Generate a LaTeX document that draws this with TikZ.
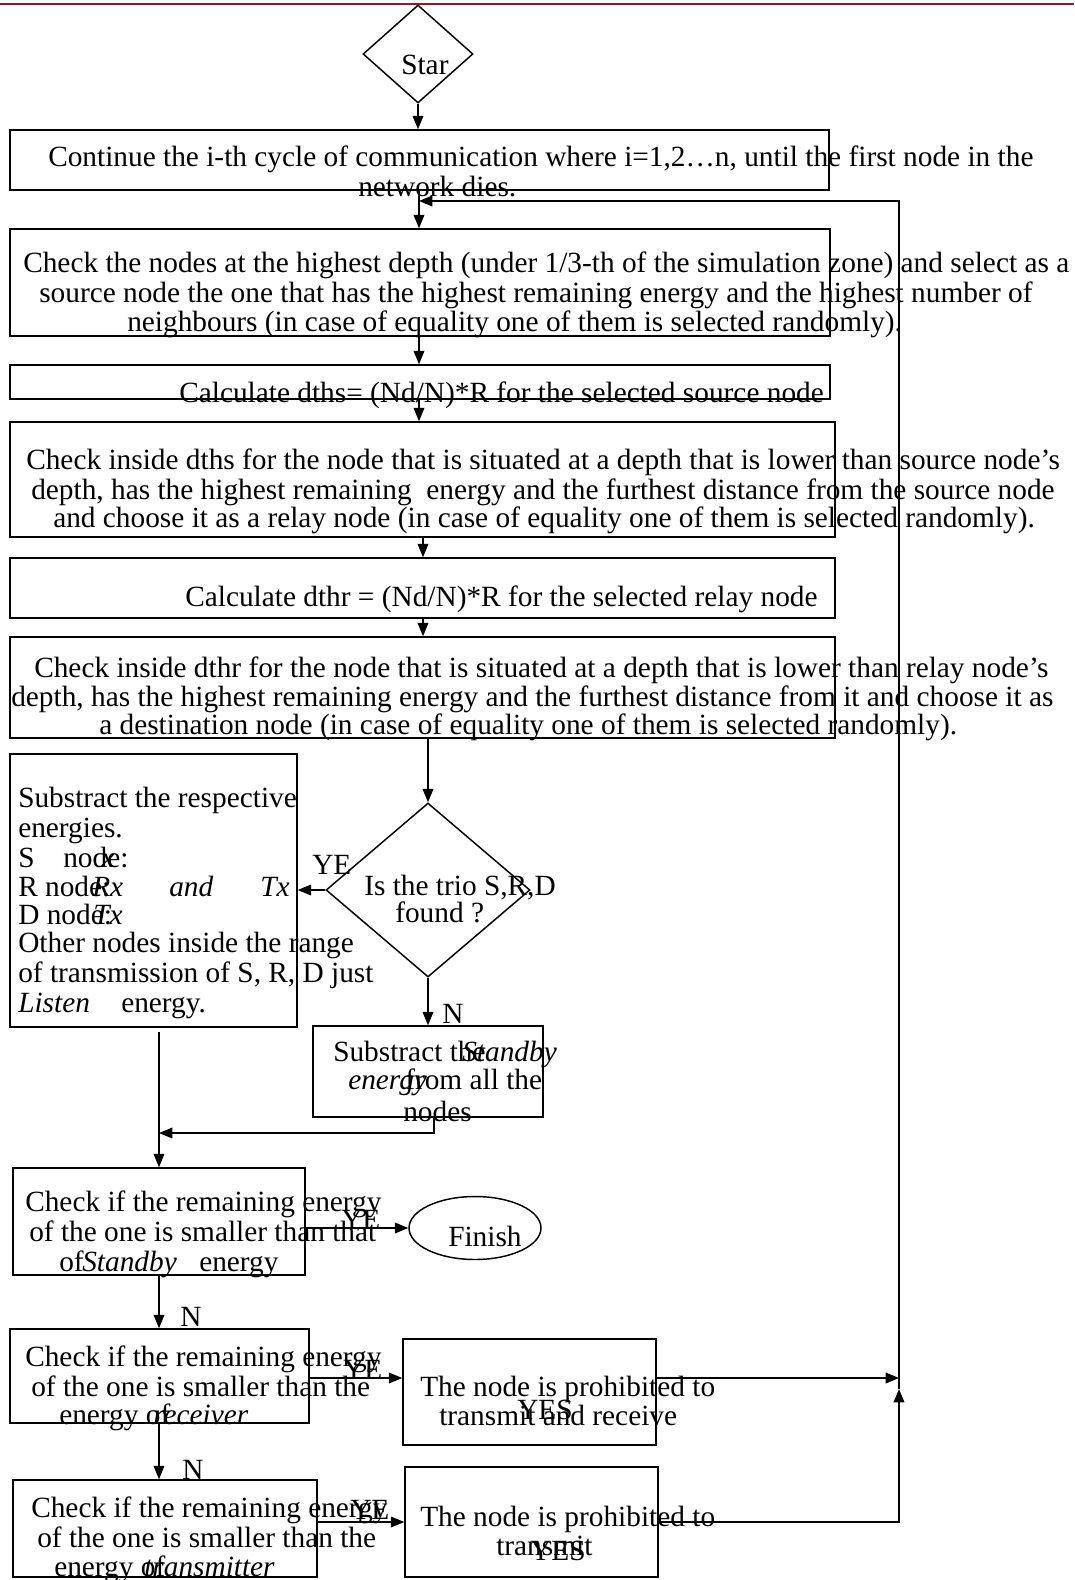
\documentclass[tikz,border=0pt]{standalone}
\usepackage{fontspec}
\setmainfont{Liberation Serif}
\usetikzlibrary{arrows.meta,shapes.geometric}
\definecolor{topred}{RGB}{139,26,46}
\tikzset{
  box/.style={draw, line width=1.1pt, rectangle, inner sep=0pt},
  dia/.style={draw, line width=1.1pt, diamond, inner sep=0pt},
  ell/.style={draw, line width=1.1pt, ellipse, inner sep=0pt},
  txt/.style={inner sep=0pt, anchor=west, yshift=-3pt, font=\fontsize{22}{22}\selectfont},
  arr/.style={line width=1pt, -{Triangle[length=10pt,width=8pt]}},
}
\newcommand{\pbox}[5]{\node[box, minimum width={(#4-#2)*0.75pt}, minimum height={(#5-#3)*0.75pt}] (#1) at ({(#2+#4)/2},{(#3+#5)/2}) {};}
\newcommand{\tline}[4]{\node[txt] (#1) at (#2,#3) {\strut #4};}
\begin{document}
\begin{tikzpicture}[x=0.75pt,y=-0.75pt]
\useasboundingbox (0,0) rectangle (1074,1580);
\fill[white] (0,0) rectangle (1074,1580);
\draw[topred, line width=2.2pt] (0,4) -- (1074,4);

% shapes
\node[dia, minimum width={110*0.75pt}, minimum height={98*0.75pt}] (start) at (418,54) {};
\pbox{b1}{10}{130}{829}{190}
\pbox{b2}{10}{229}{830}{336}
\pbox{b3}{10}{365}{830}{399}
\pbox{b4}{10}{422}{835}{537}
\pbox{b5}{10}{558}{835}{618}
\pbox{b6}{10}{637}{835}{738}
\node[dia, minimum width={204*0.75pt}, minimum height={174*0.75pt}] (trio) at (428,890) {};
\pbox{b7}{10}{754}{297}{1027}
\pbox{b8}{313}{1026}{543}{1117}
\pbox{b9}{13}{1168}{305}{1275}
\node[ell, minimum width={132*0.75pt}, minimum height={63*0.75pt}] (fin) at (475,1228) {};
\pbox{b10}{10}{1329}{309}{1423}
\pbox{b11}{403}{1339}{656}{1445}
\pbox{b12}{13}{1480}{317}{1577}
\pbox{b13}{405}{1467}{658}{1577}

% helper coordinates
\coordinate (cA) at (419,0);
\coordinate (cB) at (423,0);
\coordinate (cD) at (434,0);
\coordinate (cE) at (434,1133);
\coordinate (cF) at (159,1133);
\coordinate (cG) at (159,1032);
\coordinate (r1) at (0,1378);
\coordinate (r2) at (0,1522);
\coordinate (cR) at (899,0);
\coordinate (up) at (899,1389);
\coordinate (fbTop) at (899,201);
\coordinate (fbEnd) at (419,201);

% connectors
\draw[arr] (start.south) -- (start.south |- b1.north);
\draw[arr] (b1.south -| cA) -- (b2.north -| cA);
\draw[arr] (b2.south -| cA) -- (b3.north -| cA);
\draw[arr] (b3.south -| cA) -- (b4.north -| cA);
\draw[arr] (b4.south -| cB) -- (b5.north -| cB);
\draw[arr] (b5.south -| cB) -- (b6.north -| cB);
\draw[arr] (b6.south -| trio.north) -- (trio.north);
\draw[arr] (trio.west) -- (trio.west -| b7.east);
\draw[arr] (trio.south) -- (trio.south |- b8.north);
\draw[arr] (b8.south -| cD) -- (cE) -- (cF);
\draw[arr] (cG) -- (cG |- b9.north);
\draw[arr] (fin.west -| b9.east) -- (fin.west);
\draw[arr] (b9.south -| cG) -- (b10.north -| cG);
\draw[arr] (b10.east |- r1) -- (b11.west |- r1);
\draw[arr] (b10.south -| cG) -- (b12.north -| cG);
\draw[arr] (b12.east |- r2) -- (b13.west |- r2);
\draw[arr] (b11.east |- r1) -- (cR |- r1);
\draw[arr] (b13.east |- r2) -- (cR |- r2) -- (up);
\draw[arr] (up) -- (fbTop) -- (fbEnd);

% texts
\tline{tS}{401}{65}{Star}
\tline{t1a}{48}{157}{Continue the i-th cycle of communication where i=1,2…n, until the first node in the}
\tline{t1b}{358}{187}{network dies.}
\tline{t2a}{23}{263}{Check the nodes at the highest depth (under 1/3-th of the simulation zone) and select as a}
\tline{t2b}{39}{293}{source node the one that has the highest remaining energy and the highest number of}
\tline{t2c}{127}{322}{neighbours (in case of equality one of them is selected randomly).}
\tline{t3}{179}{393}{Calculate dths= (Nd/N)*R for the selected source node}
\tline{t4a}{26}{460}{Check inside dths for the node that is situated at a depth that is lower than source node’s}
\tline{t4b}{31}{490}{depth, has the highest remaining\ \ energy and the furthest distance from the source node}
\tline{t4c}{53}{518}{and choose it as a relay node (in case of equality one of them is selected randomly).}
\tline{t5}{185}{597}{Calculate dthr = (Nd/N)*R for the selected relay node}
\tline{t6a}{34}{668}{Check inside dthr for the node that is situated at a depth that is lower than relay node’s}
\tline{t6b}{11}{697}{depth, has the highest remaining energy and the furthest distance from it and choose it as}
\tline{t6c}{99}{725}{a destination node (in case of equality one of them is selected randomly).}
\tline{t7a}{364}{886}{Is the trio S,R,D}
\tline{t7b}{395}{913}{found ?}
\tline{y1}{312}{865}{YE}
\tline{n1}{442}{1014}{N}
\tline{t8a}{18}{798}{Substract the respective}
\tline{t8b}{18}{828}{energies.}
\tline{t8c}{18}{858}{S}
\tline{t8c2}{63}{858}{node:}
\tline{t8c3}{101}{858}{\textit{x}}
\tline{t8d}{18}{887}{R node:}
\tline{t8d2}{92}{887}{\textit{Rx}}
\tline{t8d3}{169}{887}{\textit{and}}
\tline{t8d4}{260}{887}{\textit{Tx}}
\tline{t8e}{18}{915}{D node:}
\tline{t8e2}{93}{915}{\textit{Tx}}
\tline{t8f}{18}{943}{Other nodes inside the range}
\tline{t8g}{18}{973}{of transmission of S, R, D just}
\tline{t8h}{18}{1003}{\textit{Listen}}
\tline{t8h2}{121}{1003}{energy.}
\tline{t9a}{333}{1052}{Substract the}
\tline{t9a2}{462}{1052}{\textit{Standby}}
\tline{t9b}{348}{1080}{\textit{energy}}
\tline{t9b2}{405}{1080}{from all the}
\tline{t9c}{403}{1112}{nodes}
\tline{t10a}{25}{1202}{Check if the remaining energy}
\tline{t10b}{29}{1232}{of the one is smaller than that}
\tline{t10c}{59}{1262}{of}
\tline{t10c2}{82}{1262}{\textit{Standby}}
\tline{t10c3}{199}{1262}{energy}
\tline{y2}{341}{1220}{YE}
\tline{tF}{448}{1237}{Finish}
\tline{n2}{180}{1317}{N}
\tline{t11a}{25}{1357}{Check if the remaining energy}
\tline{t11b}{31}{1387}{of the one is smaller than the}
\tline{t11c}{59}{1415}{energy of}
\tline{t11c2}{153}{1415}{\textit{receiver}}
\tline{y3}{343}{1370}{YE}
\tline{t12a}{420}{1387}{The node is prohibited to}
\tline{t12b}{439}{1416}{transmit and receive}
\tline{t12c}{517}{1410}{YES}
\tline{n3}{182}{1470}{N}
\tline{t13a}{31}{1508}{Check if the remaining energy}
\tline{t13b}{37}{1538}{of the one is smaller than the}
\tline{t13c}{54}{1567}{energy of}
\tline{t13c2}{144}{1567}{\textit{transmitter}}
\tline{y4}{350}{1510}{YE}
\tline{t14a}{420}{1517}{The node is prohibited to}
\tline{t14b}{496}{1546}{transmit}
\tline{t14c}{530}{1551}{YES}
\end{tikzpicture}
\end{document}
